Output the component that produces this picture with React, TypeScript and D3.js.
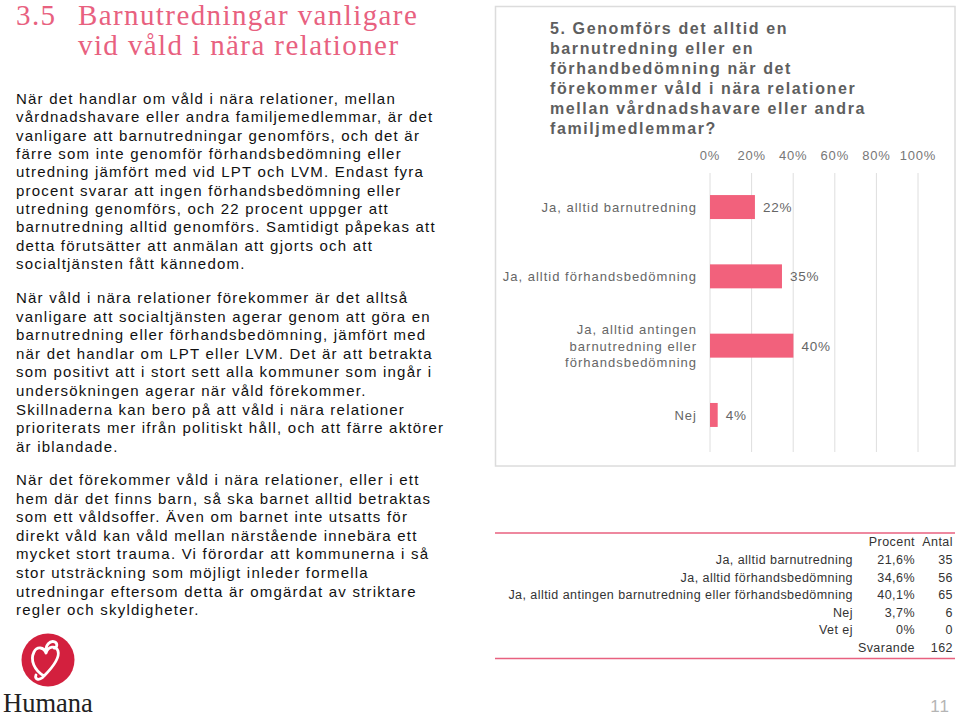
import React from "react";
import * as d3 from "d3";

const headingLines = ["Barnutredningar vanligare", "vid våld i nära relationer"];
const para1 = [
  "När det handlar om våld i nära relationer, mellan",
  "vårdnadshavare eller andra familjemedlemmar, är det",
  "vanligare att barnutredningar genomförs, och det är",
  "färre som inte genomför förhandsbedömning eller",
  "utredning jämfört med vid LPT och LVM. Endast fyra",
  "procent svarar att ingen förhandsbedömning eller",
  "utredning genomförs, och 22 procent uppger att",
  "barnutredning alltid genomförs. Samtidigt påpekas att",
  "detta förutsätter att anmälan att gjorts och att",
  "socialtjänsten fått kännedom.",
];
const para2 = [
  "När våld i nära relationer förekommer är det alltså",
  "vanligare att socialtjänsten agerar genom att göra en",
  "barnutredning eller förhandsbedömning, jämfört med",
  "när det handlar om LPT eller LVM. Det är att betrakta",
  "som positivt att i stort sett alla kommuner som ingår i",
  "undersökningen agerar när våld förekommer.",
  "Skillnaderna kan bero på att våld i nära relationer",
  "prioriterats mer ifrån politiskt håll, och att färre aktörer",
  "är iblandade.",
];
const para3 = [
  "När det förekommer våld i nära relationer, eller i ett",
  "hem där det finns barn, så ska barnet alltid betraktas",
  "som ett våldsoffer. Även om barnet inte utsatts för",
  "direkt våld kan våld mellan närstående innebära ett",
  "mycket stort trauma. Vi förordar att kommunerna i så",
  "stor utsträckning som möjligt inleder formella",
  "utredningar eftersom detta är omgärdat av striktare",
  "regler och skyldigheter.",
];

const chartTitle = [
  "5. Genomförs det alltid en",
  "barnutredning eller en",
  "förhandbedömning när det",
  "förekommer våld i nära relationer",
  "mellan vårdnadshavare eller andra",
  "familjmedlemmar?",
];
const categories = [
  ["Ja, alltid barnutredning"],
  ["Ja, alltid förhandsbedömning"],
  ["Ja, alltid antingen", "barnutredning eller", "förhandsbedömning"],
  ["Nej"],
];
const values = [21.6, 34.6, 40.1, 3.7];
const valueLabels = ["22%", "35%", "40%", "4%"];
const ticks = [0, 20, 40, 60, 80, 100];

const tableLabels = [
  "Ja, alltid barnutredning",
  "Ja, alltid förhandsbedömning",
  "Ja, alltid antingen barnutredning eller förhandsbedömning",
  "Nej",
  "Vet ej",
];
const tablePercent = ["21,6%", "34,6%", "40,1%", "3,7%", "0%"];
const tableCount = ["35", "56", "65", "6", "0"];
const respondents = "162";

const PINK = "#e8617f";
const BAR = "#f2617c";
const SANS = "'Liberation Sans', Arial, sans-serif";
const SERIF = "'Liberation Serif', 'Times New Roman', serif";

export default function App() {
  const x = d3.scaleLinear().domain([0, 100]).range([710, 918]);
  const keys = categories.map((c, i) => String(i));
  const y = d3
    .scaleBand()
    .domain(keys)
    .range([172.4, 449.6])
    .paddingInner(0.654)
    .paddingOuter(0.327);
  const bw = y.bandwidth();

  const para = (lines: string[], y0: number, step: number) =>
    lines.map((l, i) => (
      <text key={i} x={16} y={y0 + i * step}>
        {l}
      </text>
    ));

  const rowY = (i: number) => 560 + i * 17.6;

  return (
    <div style={{ position: "absolute", left: 0, top: 0 }}>
      <svg width={959} height={719} style={{ display: "block", background: "#fff" }}>
        {/* Heading */}
        <g fill={PINK} fontFamily={SERIF} fontSize={29} letterSpacing={1.4}>
          <text x={16} y={25}>3.5</text>
          <text x={78} y={25}>{headingLines[0]}</text>
          <text x={78} y={55}>{headingLines[1]}</text>
        </g>

        {/* Body text */}
        <g fill="#111" fontFamily={SANS} fontSize={15} letterSpacing={1.22}>
          {para(para1, 104, 18.35)}
          {para(para2, 303, 18.6)}
          {para(para3, 485, 18.6)}
        </g>

        {/* Chart frame */}
        <rect x={495.5} y={6.5} width={459.5} height={459.5} fill="#fff" stroke="#dcdcdc" strokeWidth={1.5} />

        <g fill="#5e5e5e" fontFamily={SANS} fontSize={16} fontWeight="bold" letterSpacing={1.6}>
          {chartTitle.map((l, i) => (
            <text key={i} x={550} y={34 + i * 20}>
              {l}
            </text>
          ))}
        </g>

        {/* Gridlines */}
        {ticks.map((t) => (
          <line key={t} x1={x(t)} x2={x(t)} y1={173} y2={452} stroke="#dedede" strokeWidth={1} />
        ))}
        <g fill="#777" fontFamily={SANS} fontSize={13} letterSpacing={0.8} textAnchor="middle">
          {ticks.map((t) => (
            <text key={t} x={x(t)} y={160}>
              {t}%
            </text>
          ))}
        </g>

        {/* Bars */}
        {values.map((v, i) => {
          const yy = y(keys[i])!;
          return (
            <g key={i}>
              <rect x={x(0)} y={yy} width={x(v) - x(0)} height={bw} fill={BAR} />
              <text
                x={x(v) + 8}
                y={yy + bw / 2 + 5}
                fill="#666"
                fontFamily={SANS}
                fontSize={13.5}
                letterSpacing={0.8}
              >
                {valueLabels[i]}
              </text>
              {categories[i].map((line, j) => (
                <text
                  key={j}
                  x={697}
                  y={yy + bw / 2 + 5 + (j - (categories[i].length - 1) / 2) * 16.5}
                  textAnchor="end"
                  fill="#666"
                  fontFamily={SANS}
                  fontSize={13}
                  letterSpacing={1}
                >
                  {line}
                </text>
              ))}
            </g>
          );
        })}

        {/* Table */}
        <line x1={495} x2={955} y1={533} y2={533} stroke={PINK} strokeWidth={1.5} />
        <line x1={495} x2={955} y1={658.5} y2={658.5} stroke={PINK} strokeWidth={1.5} />
        <g fill="#333" fontFamily={SANS} fontSize={12.5} letterSpacing={0.45} textAnchor="end">
          <text x={915} y={546}>Procent</text>
          <text x={953} y={546}>Antal</text>
          {tableLabels.map((l, i) => (
            <g key={i}>
              <text x={853} y={rowY(i) + 4}>{l}</text>
              <text x={915} y={rowY(i) + 4}>{tablePercent[i]}</text>
              <text x={953} y={rowY(i) + 4}>{tableCount[i]}</text>
            </g>
          ))}
          <text x={915} y={rowY(5) + 4}>Svarande</text>
          <text x={953} y={rowY(5) + 4}>{respondents}</text>
        </g>

        {/* Page number */}
        <text x={950} y={712} textAnchor="end" fill="#b5b5b5" fontFamily={SANS} fontSize={17} letterSpacing={1}>
          11
        </text>

        {/* Logo */}
        <circle cx={48} cy={660} r={26.5} fill="#d3203e" />
        <path
          d="M44,676 C34,670 30,660 34,652 C37,646 44,647 46,653 C48,646 56,645 58,651 C60,658 52,668 44,676 Z M44,676 C40,681 34,680 36,675 M46,653 C45,645 50,640 55,642 C58,644 57,648 54,648"
          fill="none"
          stroke="#fff"
          strokeWidth={2.8}
          strokeLinecap="round"
          strokeLinejoin="round"
        />
        <text x={3} y={712} fill="#222" fontFamily={SERIF} fontSize={26.5}>
          Humana
        </text>
      </svg>
    </div>
  );
}
